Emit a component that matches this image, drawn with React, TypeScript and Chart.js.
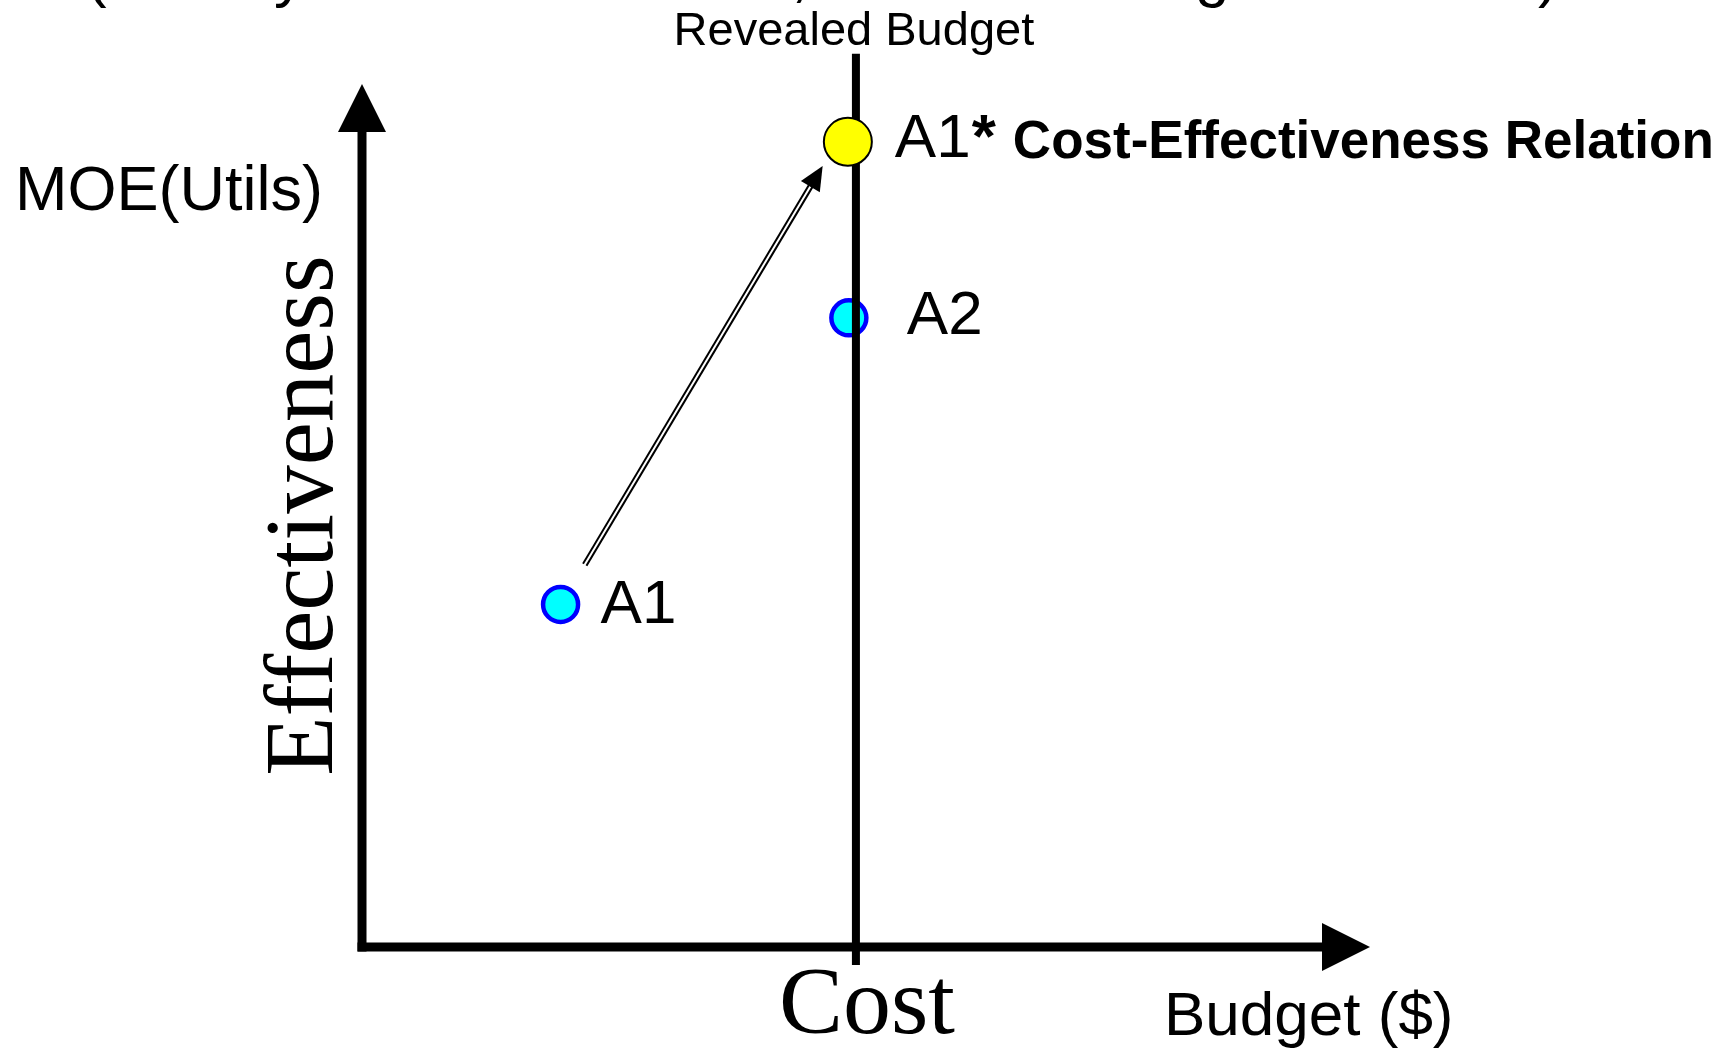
import React, { useEffect, useRef } from "react";
import { Chart, registerables } from "chart.js";

Chart.register(...registerables);

// ---- data (logical units: budget / cost on x, MOE on y, axes 0..10) ----
const axisMin = 0;
const axisMax = 10;
const alternativeNames = ["A1", "A2"];
const alternativeCost = [1.97, 4.83];
const alternativeMOE = [3.97, 7.29];
const preferredNames = ["A1*"];
const preferredCost = [4.82];
const preferredMOE = [9.33];
const revealedBudget = [4.9];
const budgetLineSpan = [-0.21, 10.35];
const improvementFrom = [2.21, 4.43];
const improvementTo = [4.57, 9.05];
const relationLabel = "Cost-Effectiveness Relation";
const budgetLabel = "Revealed Budget";
const xTitle = "Budget ($)";
const xTick = "Cost";
const yTitle = "Effectiveness";
const yUnitTitle = "MOE(Utils)";
const clippedTitleGlyphs = ["(", "y", ",", "g", ")"];

const SANS = '"Liberation Sans", Arial, sans-serif';
const SERIF = '"Liberation Serif", "Times New Roman", serif';

const overlayPlugin = {
  id: "overlay",
  beforeDatasetsDraw(chart: any) {
    const { ctx, scales } = chart;
    const x = scales.x;
    const y = scales.y;
    const ox = x.getPixelForValue(axisMin);
    const oy = y.getPixelForValue(axisMin);
    const xe = x.getPixelForValue(axisMax);
    const ye = y.getPixelForValue(axisMax);
    ctx.save();
    ctx.fillStyle = "#000";
    ctx.strokeStyle = "#000";
    ctx.lineWidth = 9;
    ctx.lineCap = "butt";
    // y axis
    ctx.beginPath();
    ctx.moveTo(ox, oy + 4.5);
    ctx.lineTo(ox, ye + 46);
    ctx.stroke();
    ctx.beginPath();
    ctx.moveTo(ox, ye);
    ctx.lineTo(ox - 24, ye + 48);
    ctx.lineTo(ox + 24, ye + 48);
    ctx.closePath();
    ctx.fill();
    // x axis
    ctx.beginPath();
    ctx.moveTo(ox - 4.5, oy);
    ctx.lineTo(xe - 46, oy);
    ctx.stroke();
    ctx.beginPath();
    ctx.moveTo(xe, oy);
    ctx.lineTo(xe - 48, oy - 24);
    ctx.lineTo(xe - 48, oy + 24);
    ctx.closePath();
    ctx.fill();
    ctx.restore();
  },
  afterDatasetsDraw(chart: any) {
    const { ctx, scales } = chart;
    const x = scales.x;
    const y = scales.y;
    const ox = x.getPixelForValue(axisMin);
    const oy = y.getPixelForValue(axisMin);
    const ye = y.getPixelForValue(axisMax);
    const bx = x.getPixelForValue(revealedBudget[0]);
    const btop = y.getPixelForValue(budgetLineSpan[1]);
    ctx.save();
    ctx.fillStyle = "#000";
    ctx.textBaseline = "alphabetic";

    // improvement arrow (double-line shaft)
    const sx = x.getPixelForValue(improvementFrom[0]);
    const sy = y.getPixelForValue(improvementFrom[1]);
    const tx = x.getPixelForValue(improvementTo[0]);
    const ty = y.getPixelForValue(improvementTo[1]);
    const len = Math.hypot(tx - sx, ty - sy);
    const ux = (tx - sx) / len;
    const uy = (ty - sy) / len;
    const headLen = 24;
    const headHalf = 11;
    const hbx = tx - ux * headLen;
    const hby = ty - uy * headLen;
    ctx.lineCap = "butt";
    ctx.strokeStyle = "#000";
    ctx.lineWidth = 6;
    ctx.beginPath();
    ctx.moveTo(sx, sy);
    ctx.lineTo(hbx + ux * 2, hby + uy * 2);
    ctx.stroke();
    ctx.strokeStyle = "#fff";
    ctx.lineWidth = 2;
    ctx.beginPath();
    ctx.moveTo(sx - ux * 1, sy - uy * 1);
    ctx.lineTo(hbx, hby);
    ctx.stroke();
    ctx.beginPath();
    ctx.moveTo(tx, ty);
    ctx.lineTo(hbx - uy * headHalf, hby + ux * headHalf);
    ctx.lineTo(hbx + uy * headHalf, hby - ux * headHalf);
    ctx.closePath();
    ctx.fill();

    // point labels
    ctx.textAlign = "left";
    ctx.font = `62px ${SANS}`;
    const altOffsets = [
      [40, 19],
      [58, 16],
    ];
    alternativeNames.forEach((name, i) => {
      const px = x.getPixelForValue(alternativeCost[i]);
      const py = y.getPixelForValue(alternativeMOE[i]);
      ctx.fillText(name, px + altOffsets[i][0], py + altOffsets[i][1]);
    });
    const ppx = x.getPixelForValue(preferredCost[0]);
    const ppy = y.getPixelForValue(preferredMOE[0]);
    const pName = preferredNames[0];
    const base = pName.replace("*", "");
    ctx.fillText(base, ppx + 47, ppy + 15);
    const bw = ctx.measureText(base).width;
    ctx.font = `bold 62px ${SANS}`;
    ctx.fillText("*", ppx + 47 + bw + 1, ppy + 15);
    ctx.font = `bold 53px ${SANS}`;
    ctx.fillText(relationLabel, ppx + 165, ppy + 16);

    // revealed budget label
    ctx.textAlign = "center";
    ctx.font = `47px ${SANS}`;
    ctx.fillText(budgetLabel, bx - 2, btop - 9);

    // clipped title glyphs at very top
    ctx.textAlign = "left";
    ctx.font = `62px ${SANS}`;
    const glyphX = [86, 274, 791, 1195, 1538];
    clippedTitleGlyphs.forEach((g, i) => ctx.fillText(g, glyphX[i], -5));

    // MOE label
    ctx.font = `63px ${SANS}`;
    ctx.fillText(yUnitTitle, 15, 210);

    // Effectiveness (rotated)
    ctx.save();
    ctx.font = `97px ${SERIF}`;
    ctx.textAlign = "center";
    ctx.translate(ox - 30, (oy + ye) / 2);
    ctx.rotate(-Math.PI / 2);
    ctx.fillText(yTitle, 0, 0);
    ctx.restore();

    // Cost tick label
    ctx.font = `96px ${SERIF}`;
    ctx.textAlign = "center";
    ctx.fillText(xTick, bx + 11, oy + 86);

    // Budget ($)
    ctx.font = `62px ${SANS}`;
    ctx.textAlign = "left";
    ctx.fillText(xTitle, 1164, oy + 88);
    ctx.restore();
  },
};

export default function App() {
  const ref = useRef<HTMLCanvasElement | null>(null);
  useEffect(() => {
    if (!ref.current) return;
    const chart = new Chart(ref.current, {
      type: "scatter",
      data: {
        datasets: [
          {
            label: "Alternatives",
            data: alternativeCost.map((c, i) => ({ x: c, y: alternativeMOE[i] })),
            pointRadius: 17.5,
            pointBackgroundColor: "#00FFFF",
            pointBorderColor: "#0000FF",
            pointBorderWidth: 4.5,
            order: 3,
            clip: false,
          } as any,
          {
            label: budgetLabel,
            data: budgetLineSpan.map((v) => ({ x: revealedBudget[0], y: v })),
            showLine: true,
            borderColor: "#000",
            borderWidth: 8,
            pointRadius: 0,
            order: 2,
            clip: false,
          } as any,
          {
            label: "Preferred",
            data: preferredCost.map((c, i) => ({ x: c, y: preferredMOE[i] })),
            pointRadius: 24,
            pointBackgroundColor: "#FFFF00",
            pointBorderColor: "#000",
            pointBorderWidth: 2,
            order: 1,
            clip: false,
          } as any,
        ],
      },
      options: {
        animation: false,
        responsive: false,
        maintainAspectRatio: false,
        events: [],
        layout: { padding: { left: 362, right: 365, top: 84, bottom: 106 } },
        scales: {
          x: { type: "linear", min: axisMin, max: axisMax, display: false },
          y: { type: "linear", min: axisMin, max: axisMax, display: false },
        },
        plugins: { legend: { display: false }, tooltip: { enabled: false } },
      },
      plugins: [overlayPlugin],
    });
    return () => chart.destroy();
  }, []);
  return (
    <div style={{ position: "absolute", left: 0, top: 0, width: 1735, height: 1053, background: "#fff" }}>
      <canvas ref={ref} width={1735} height={1053} style={{ display: "block" }} />
    </div>
  );
}
